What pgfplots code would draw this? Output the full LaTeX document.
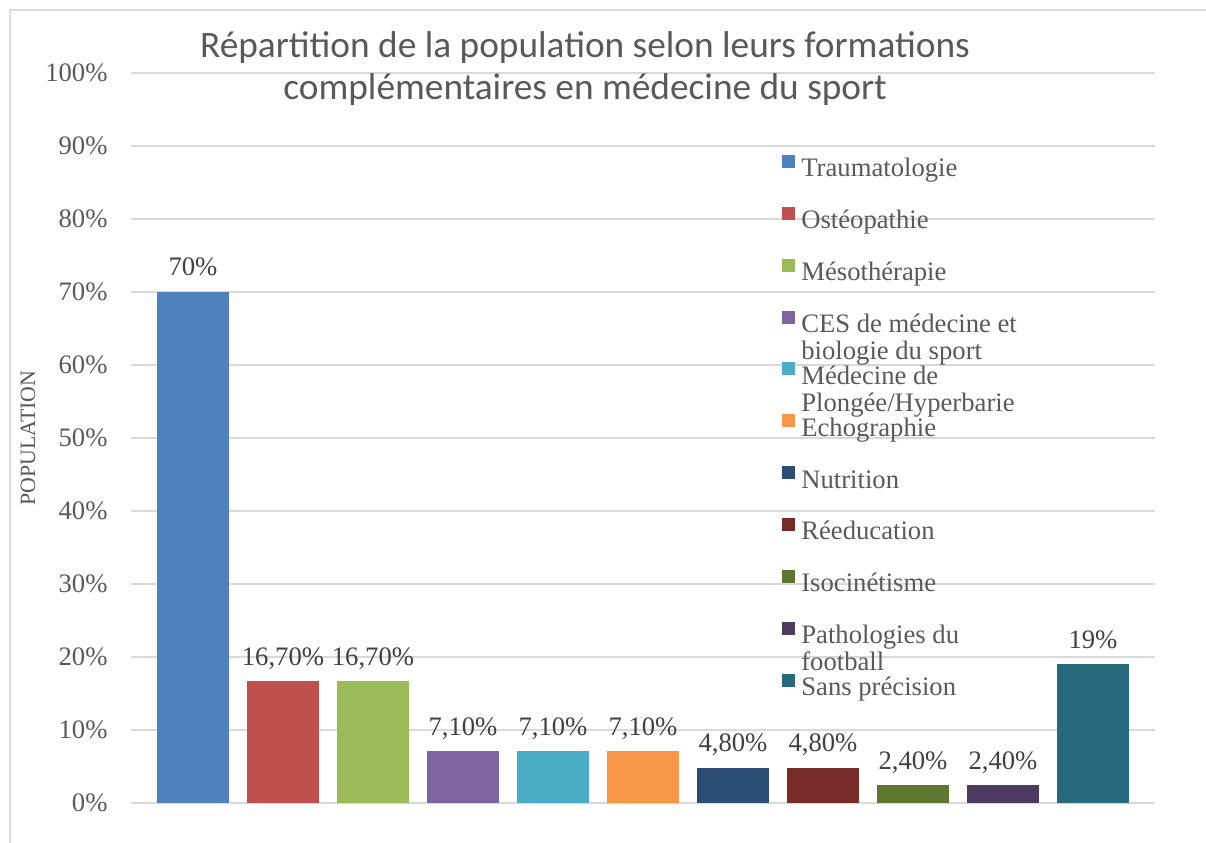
\documentclass[border=0pt]{standalone}
\usepackage{pgfplots}
\pgfplotsset{compat=1.18}
\usepackage{fontspec}
\setmainfont{Liberation Serif}
\newfontfamily\titlefont{Carlito}

\definecolor{c1}{HTML}{4F81BD}
\definecolor{c2}{HTML}{C0504D}
\definecolor{c3}{HTML}{9BBB59}
\definecolor{c4}{HTML}{8064A2}
\definecolor{c5}{HTML}{4BACC6}
\definecolor{c6}{HTML}{F79646}
\definecolor{c7}{HTML}{2C4D75}
\definecolor{c8}{HTML}{772C2A}
\definecolor{c9}{HTML}{5F7530}
\definecolor{c10}{HTML}{4D3B62}
\definecolor{c11}{HTML}{276A7C}
\definecolor{txt}{HTML}{595959}
\definecolor{lbl}{HTML}{404040}
\definecolor{grd}{HTML}{D9D9D9}

% legend text: fixed row height, second line hangs below
\newcommand\lgd[1]{\rule[-2.5pt]{0pt}{9.5pt}\smash{\parbox[t]{4cm}{#1}}}

\begin{document}
\begin{tikzpicture}
\begin{axis}[
    scale only axis, width=384pt, height=273.75pt,
    xmin=-0.689, xmax=10.689, ymin=0, ymax=100,
    axis line style={draw=none}, tick style={draw=none},
    xtick=\empty,
    ytick={0,10,20,30,40,50,60,70,80,90,100},
    yticklabels={0\%,10\%,20\%,30\%,40\%,50\%,60\%,70\%,80\%,90\%,100\%},
    yticklabel style={font=\fontsize{10}{12}\selectfont, text=txt, anchor=east, inner sep=0pt, xshift=-8.6pt},
    ymajorgrids, grid style={grd, line width=0.75pt},
    ylabel={POPULATION},
    ylabel style={at={(axis description cs:-0.1005,0.5)}, anchor=center, font=\fontsize{8.2}{10}\selectfont, text=txt},
    ybar, bar width=27pt,
    every node near coord/.append style={anchor=base, yshift=6pt, inner sep=0pt, font=\fontsize{10}{12}\selectfont, text=lbl},
    legend style={draw=none, fill=none, at={(axis description cs:0.6355,0.8885)}, anchor=north west,
        inner sep=0pt, row sep=9.7pt, column sep=2.25pt, font=\fontsize{10}{10.1}\selectfont, text=txt,
        nodes={inner sep=0pt}},
    legend cell align=left,
    legend image code/.code={\fill[#1,draw=none] (0pt,0.6pt) rectangle (4.9pt,5.5pt);},
    clip=false,
]
\addplot[fill=c1, draw=none, bar shift=0pt, nodes near coords={70\%}] coordinates {(0,70)};
\addlegendentry{\lgd{Traumatologie}}
\addplot[fill=c2, draw=none, bar shift=0pt, nodes near coords={16,70\%}] coordinates {(1,16.7)};
\addlegendentry{\lgd{Ostéopathie}}
\addplot[fill=c3, draw=none, bar shift=0pt, nodes near coords={16,70\%}] coordinates {(2,16.7)};
\addlegendentry{\lgd{Mésothérapie}}
\addplot[fill=c4, draw=none, bar shift=0pt, nodes near coords={7,10\%}] coordinates {(3,7.1)};
\addlegendentry{\lgd{CES de médecine et\\biologie du sport}}
\addplot[fill=c5, draw=none, bar shift=0pt, nodes near coords={7,10\%}] coordinates {(4,7.1)};
\addlegendentry{\lgd{Médecine de\\Plongée/Hyperbarie}}
\addplot[fill=c6, draw=none, bar shift=0pt, nodes near coords={7,10\%}] coordinates {(5,7.1)};
\addlegendentry{\lgd{Echographie}}
\addplot[fill=c7, draw=none, bar shift=0pt, nodes near coords={4,80\%}] coordinates {(6,4.8)};
\addlegendentry{\lgd{Nutrition}}
\addplot[fill=c8, draw=none, bar shift=0pt, nodes near coords={4,80\%}] coordinates {(7,4.8)};
\addlegendentry{\lgd{Réeducation}}
\addplot[fill=c9, draw=none, bar shift=0pt, nodes near coords={2,40\%}] coordinates {(8,2.4)};
\addlegendentry{\lgd{Isocinétisme}}
\addplot[fill=c10, draw=none, bar shift=0pt, nodes near coords={2,40\%}] coordinates {(9,2.4)};
\addlegendentry{\lgd{Pathologies du\\football}}
\addplot[fill=c11, draw=none, bar shift=0pt, nodes near coords={19\%}] coordinates {(10,19)};
\addlegendentry{\lgd{Sans précision}}
\coordinate (ll) at (rel axis cs:0,0);
\coordinate (ur) at (rel axis cs:1,1);
\coordinate (tt) at (rel axis cs:0.4434,1);
\end{axis}
\node[font=\titlefont\fontsize{14}{16}\selectfont, text=txt, anchor=base, yshift=5.8pt] at (tt)
    {Répartition de la population selon leurs formations};
\node[font=\titlefont\fontsize{14}{16}\selectfont, text=txt, anchor=base, yshift=-10.1pt] at (tt)
    {complémentaires en médecine du sport};
\draw[grd, line width=0.75pt] ([shift={(-45.4pt,-16pt)}]ll) |- ([shift={(20pt,23.6pt)}]ur);
\pgfresetboundingbox
\path ([shift={(-49.125pt,-15pt)}]ll) rectangle ([shift={(19.125pt,27.375pt)}]ur);
\end{tikzpicture}
\end{document}
